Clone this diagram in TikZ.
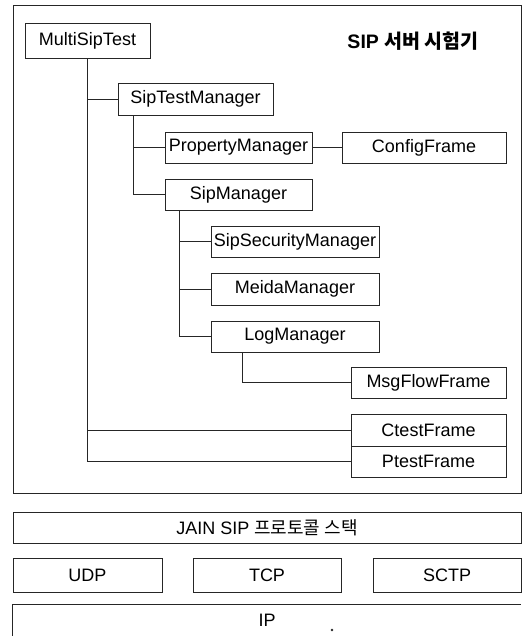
\documentclass[tikz,border=0pt]{standalone}
\usepackage{fontspec}
\setmainfont{Liberation Sans}
\newfontfamily\kr{Noto Sans CJK KR}
\begin{document}
\begin{tikzpicture}[x=1pt,y=-1pt,
  every node/.style={font=\fontsize{18}{21}\selectfont, inner sep=0pt},
  box/.style={draw=black!85, line width=0.9pt, minimum width=#1},
  conn/.style={draw=black!85, line width=0.9pt}]
\useasboundingbox (0,0) rectangle (523,636);
% outer frame
\node[draw=black!85, line width=0.9pt, minimum width=508, minimum height=488] (frame) at (267,249) {};
\node[font=\fontsize{19.5}{22}\selectfont\bfseries] (title) at (413,41) {SIP {\kr\bfseries 서버 시험기}};
% tree nodes
\node[box=125, minimum height=35] (mst) at (87.5,40.5) {MultiSipTest};
\node[box=155, minimum height=32] (stm) at (195.5,99) {SipTestManager};
\node[box=147, minimum height=31] (pm) at (238.5,147.5) {PropertyManager};
\node[box=164, minimum height=31] (cf) at (424,147.5) {ConfigFrame};
\node[box=147, minimum height=31] (sm) at (238.5,194.5) {SipManager};
\node[box=168, minimum height=31] (ssm) at (295,241.5) {SipSecurityManager};
\node[box=168, minimum height=32] (mm) at (295,289) {MeidaManager};
\node[box=168, minimum height=31] (lm) at (295,336.5) {LogManager};
\node[box=155, minimum height=31] (mff) at (428.5,382.5) {MsgFlowFrame};
\node[box=155, minimum height=32] (ctf) at (428.5,430) {CtestFrame};
\node[box=155, minimum height=31] (ptf) at (428.5,461.5) {PtestFrame};
% connectors
\draw[conn] (mst.south) |- (ptf.west);
\draw[conn] (mst.south) |- (stm.west);
\draw[conn] (mst.south) |- (ctf.west);
\draw[conn] ([xshift=16pt]stm.south west) |- (sm.west);
\draw[conn] ([xshift=16pt]stm.south west) |- (pm.west);
\draw[conn] (pm.east) -- (cf.west);
\draw[conn] ([xshift=15pt]sm.south west) |- (lm.west);
\draw[conn] ([xshift=15pt]sm.south west) |- (ssm.west);
\draw[conn] ([xshift=15pt]sm.south west) |- (mm.west);
\draw[conn] ([xshift=32pt]lm.south west) |- (mff.west);
% protocol stack
\node[box=508, minimum height=31] (jain) at (267,527.5) {JAIN SIP {\kr 프로토콜 스택}};
\node[box=149, minimum height=34] (udp) at (87.5,575) {UDP};
\node[box=148, minimum height=34] (tcp) at (267,575) {TCP};
\node[box=148, minimum height=34] (sctp) at (447,575) {SCTP};
\node[minimum width=508, minimum height=30] (ip) at (267,620) {IP};
\draw[conn] ([yshift=-2pt]ip.south west) -- (ip.north west) -- (ip.north east);
\fill[black!85] (332,630) circle (1.3);
\end{tikzpicture}
\end{document}
